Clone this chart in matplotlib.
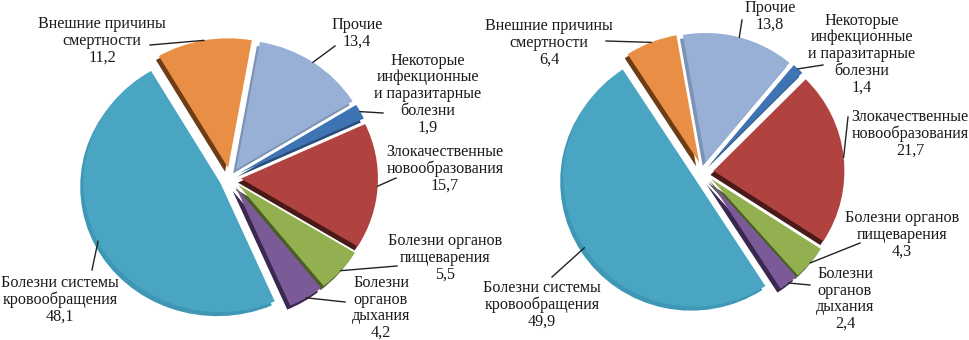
import numpy as np
import matplotlib
matplotlib.use('Agg')
import matplotlib.pyplot as plt

plt.rcParams['font.family'] = ['Liberation Serif', 'DejaVu Serif']

# causes of death, in the order the slices go clockwise from the top
causes = ['Прочие',
          'Некоторые\nинфекционные\nи паразитарные\nболезни',
          'Злокачественные\nновообразования',
          'Болезни органов\nпищеварения',
          'Болезни\nорганов\nдыхания',
          'Болезни системы\nкровообращения',
          'Внешние причины\nсмертности']
share_left = [13.4, 1.9, 15.7, 5.5, 4.2, 48.1, 11.2]
share_right = [13.8, 1.4, 21.7, 4.3, 2.4, 49.9, 6.4]

colors = ['#98b0d6', '#3e74b3', '#b04340', '#93b050', '#7a5b98', '#49a5c2', '#e98e45']
# side walls; the big slice only shows its outer wall, so keep it close to its top
sides = ['#7d93b5', '#284d78', '#4a1a18', '#4a5e25', '#3a2850', '#3e97b4', '#6e3d16']

W, H = 970, 340
fig = plt.figure(figsize=(9.7, 3.4), dpi=100)


def draw_pie(values, cx, cy, R, k, start, label_pos, line_start):
    """pie in pixel-like coords, squashed vertically by k"""
    ax = fig.add_axes([0, 0, 1, 1])
    ax.patch.set_visible(False)
    # pie's explode is in data units here, so scale it by the radius
    explode = [0.08 * R] * len(values)
    # darker copy a bit down-left gives the 3d side
    ax.pie(values, colors=sides, startangle=start, counterclock=False,
           explode=explode, radius=R, center=(cx - 3, (H - cy - 4) / k),
           wedgeprops=dict(linewidth=0))
    wedges, _ = ax.pie(values, colors=colors, startangle=start, counterclock=False,
                       explode=explode, radius=R, center=(cx, (H - cy) / k),
                       wedgeprops=dict(linewidth=0))
    ax.set_aspect('auto')
    ax.set_xlim(0, W)
    ax.set_ylim(0, H / k)
    ax.axis('off')

    for w, name, v, (tx, ty), (lx, ly) in zip(wedges, causes, values, label_pos, line_start):
        mid = np.deg2rad((w.theta1 + w.theta2) / 2)
        ex, ey = w.center[0] + w.r * np.cos(mid), w.center[1] + w.r * np.sin(mid)
        ax.plot([lx, ex], [(H - ly) / k, ey], color='#222222', lw=1.0)
        txt = name + '\n' + f'{v:.1f}'.replace('.', ',')
        ax.text(tx, (H - ty) / k, txt, ha='center', va='center', fontsize=11.6,
                linespacing=1.05, color='#1a1a1a')


draw_pie(share_left, 230, 178, 137, 0.945, 80,
         [(357, 33), (428, 94), (445, 169), (445, 258), (381, 308), (60, 300), (102, 41)],
         [(335, 46), (383, 113), (396, 178), (397, 266), (345, 302), (92, 270), (150, 45)])

draw_pie(share_right, 703, 172, 131, 0.985, 100,
         [(770, 16), (862, 54), (910, 134), (902, 235), (845, 299), (542, 305), (549, 43)],
         [(742, 20), (823, 65), (848, 117), (860, 243), (810, 285), (552, 277), (606, 41)])

fig.savefig('out.png', dpi=100)
